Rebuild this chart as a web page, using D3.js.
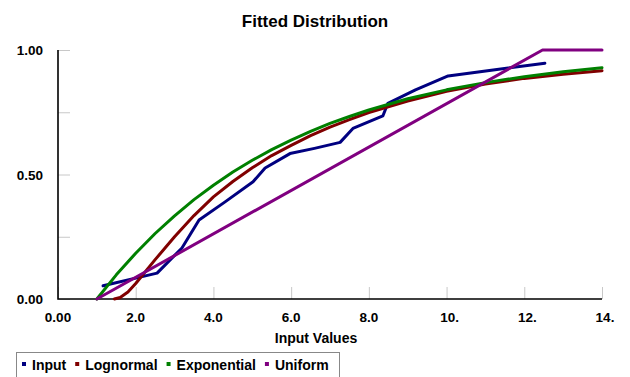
<!DOCTYPE html>
<html>

<head>
    <meta charset="utf-8" />
    <title>Fitted Distribution</title>
    <script src="https://cdn.jsdelivr.net/npm/d3@7/dist/d3.min.js"></script>
</head>

<body>
    <style>
        html,
        body {
            margin: 0;
            padding: 0;
            background: #fff;
        }

        #chart text {
            font-family: "Liberation Sans", Arial, sans-serif;
            font-weight: bold;
            fill: #000;
        }

        .series {
            fill: none;
            stroke-width: 3px;
            stroke-linejoin: round;
            stroke-linecap: round;
        }
    </style>
    <div id="chart"></div>
    <script>
        // series: [x, cumulative probability]
        const inputData = [
            [1.16, 0.053], [2.55, 0.104], [3.19, 0.205], [3.63, 0.317], [4.3, 0.39],
            [5.02, 0.471], [5.33, 0.526], [5.97, 0.584], [6.6, 0.605], [7.26, 0.629],
            [7.59, 0.685], [8.36, 0.735], [8.49, 0.786], [9.2, 0.84], [10.04, 0.896],
            [11.2, 0.92], [12.53, 0.947]
        ];
        const lognormalData = [
            [1.45, 0.0], [1.6, 0.006], [1.8, 0.028], [2.0, 0.062], [2.5, 0.158],
            [3.0, 0.25], [3.5, 0.335], [4.0, 0.41], [4.5, 0.472], [5.0, 0.527],
            [5.5, 0.576], [6.0, 0.617], [6.5, 0.656], [7.0, 0.69], [7.5, 0.72],
            [8.0, 0.749], [9.0, 0.795], [10.0, 0.834], [11.0, 0.863], [12.0, 0.886],
            [13.0, 0.903], [14.0, 0.917]
        ];
        const exponentialData = [
            [1.0, 0.0], [1.5, 0.097], [2.0, 0.184], [2.5, 0.263], [3.0, 0.334],
            [3.5, 0.399], [4.0, 0.457], [4.5, 0.51], [5.0, 0.557], [5.5, 0.6],
            [6.0, 0.638], [6.5, 0.673], [7.0, 0.705], [7.5, 0.733], [8.0, 0.759],
            [9.0, 0.804], [10.0, 0.84], [11.0, 0.869], [12.0, 0.893], [13.0, 0.913],
            [14.0, 0.929]
        ];
        const uniformData = [
            [1.0, 0.0], [12.47, 1.0], [14.0, 1.0]
        ];

        const seriesNames = ["Input", "Lognormal", "Exponential", "Uniform"];
        const seriesColors = ["#000080", "#800000", "#008000", "#800080"];
        const xTicks = [0, 2, 4, 6, 8, 10, 12, 14];
        const xTickLabels = ["0.00", "2.0", "4.0", "6.0", "8.0", "10.", "12.", "14."];
        const yTicks = [0, 0.25, 0.5, 0.75, 1];
        const yTickLabels = ["0.00", "", "0.50", "", "1.00"];

        const width = 630,
            height = 377;
        const plotLeft = 58,
            plotRight = 602,
            plotTop = 50,
            plotBottom = 299;

        const svg = d3.select("#chart").append("svg")
            .attr("width", width)
            .attr("height", height);

        const x = d3.scaleLinear().domain([0, 14]).range([plotLeft, plotRight]);
        const y = d3.scaleLinear().domain([0, 1]).range([plotBottom, plotTop]);

        svg.append("text")
            .attr("x", 315)
            .attr("y", 27)
            .attr("text-anchor", "middle")
            .style("font-size", "17px")
            .text("Fitted Distribution");

        // y axis: short grey ticks pointing into the plot
        const yAxis = svg.append("g")
            .attr("transform", `translate(${plotLeft},0)`)
            .call(d3.axisRight(y).tickValues(yTicks).tickSize(12).tickFormat(""));
        yAxis.select(".domain").remove();
        yAxis.selectAll(".tick line").attr("stroke", "#c8c8c8");

        svg.append("g").selectAll("text")
            .data(yTicks)
            .enter()
            .append("text")
            .attr("x", 43)
            .attr("y", d => y(d) + 5)
            .attr("text-anchor", "end")
            .style("font-size", "13.5px")
            .text((d, i) => yTickLabels[i]);

        // x axis: grey ticks pointing up
        const xAxis = svg.append("g")
            .attr("transform", `translate(0,${plotBottom})`)
            .call(d3.axisTop(x).tickValues(xTicks).tickSize(12).tickFormat(""));
        xAxis.select(".domain").remove();
        xAxis.selectAll(".tick line").attr("stroke", "#c8c8c8");

        svg.append("g").selectAll("text")
            .data(xTicks)
            .enter()
            .append("text")
            .attr("x", d => x(d) + (d > 8 ? 3 : 0))
            .attr("y", 322)
            .attr("text-anchor", "middle")
            .style("font-size", "13.5px")
            .text((d, i) => xTickLabels[i]);

        svg.append("text")
            .attr("x", 316)
            .attr("y", 343)
            .attr("text-anchor", "middle")
            .style("font-size", "14px")
            .text("Input Values");

        // axis lines
        svg.append("path")
            .attr("d", `M${plotLeft},${plotTop}V${plotBottom}H${plotRight}`)
            .attr("fill", "none")
            .attr("stroke", "#000")
            .attr("stroke-width", 1.6);

        const line = d3.line()
            .x(d => x(d[0]))
            .y(d => y(d[1]));

        const allSeries = [inputData, lognormalData, exponentialData, uniformData];
        svg.append("g").selectAll("path")
            .data(allSeries)
            .enter()
            .append("path")
            .attr("class", "series")
            .attr("stroke", (d, i) => seriesColors[i])
            .attr("d", line);

        // legend
        const legend = svg.append("g");
        legend.append("rect")
            .attr("x", 16.5)
            .attr("y", 352.5)
            .attr("width", 323)
            .attr("height", 40)
            .attr("fill", "#fff")
            .attr("stroke", "#888")
            .attr("stroke-width", 1);

        let lx = 22;
        seriesNames.forEach(function(name, i) {
            legend.append("rect")
                .attr("x", lx)
                .attr("y", 362)
                .attr("width", 4)
                .attr("height", 4)
                .attr("fill", seriesColors[i]);
            const t = legend.append("text")
                .attr("x", lx + 10)
                .attr("y", 370)
                .style("font-size", "14px")
                .text(name);
            lx += 10 + t.node().getComputedTextLength() + 9;
        });
    </script>
</body>

</html>
